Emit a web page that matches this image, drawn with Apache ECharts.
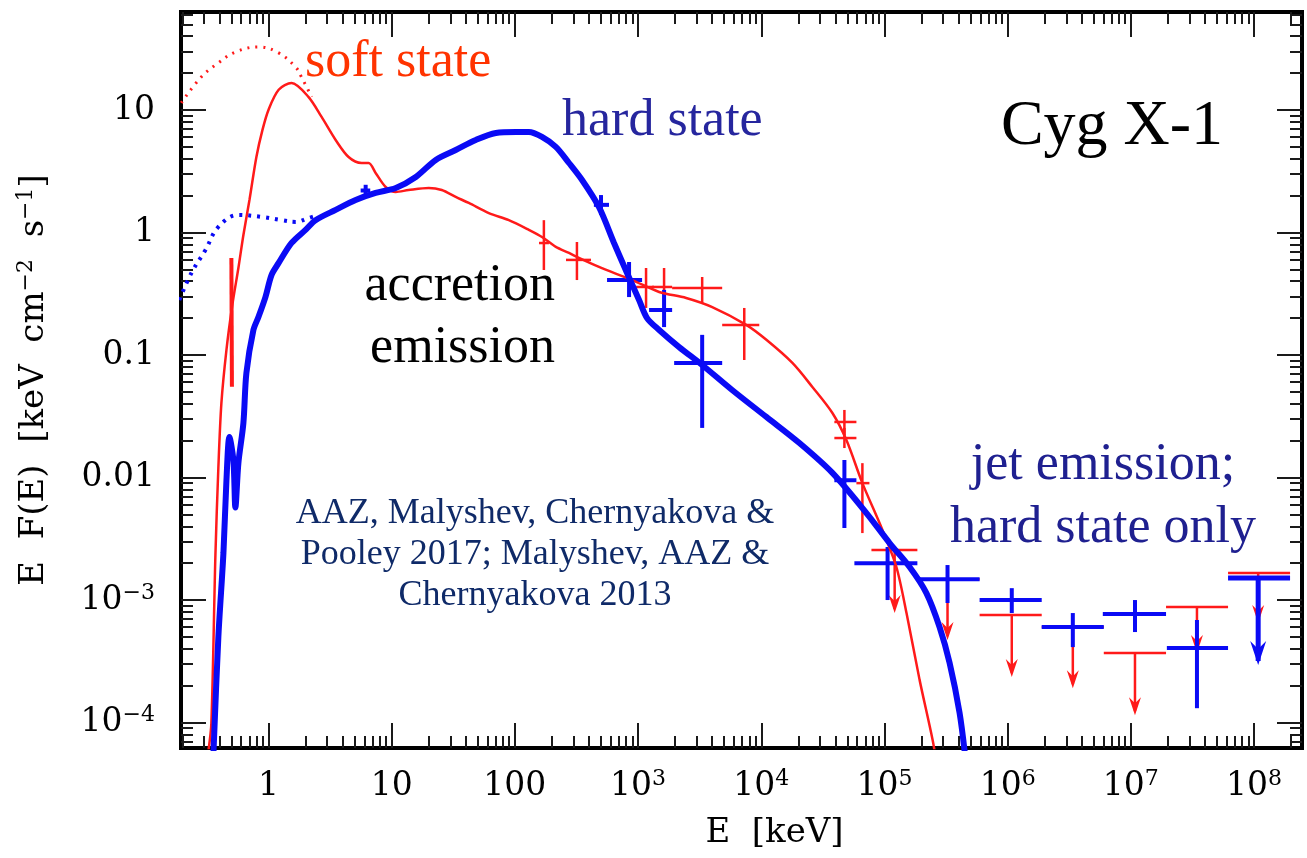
<!DOCTYPE html>
<html>
<head>
<meta charset="utf-8">
<script src="https://cdn.jsdelivr.net/npm/echarts@6/dist/echarts.min.js"></script>
<style>
  html, body { margin: 0; padding: 0; background: #fff; }
  #chart { width: 1307px; height: 858px; }
</style>
</head>
<body>
<div id="chart"></div>
<script>
// axis ticks and labels
const xTickValues = [1, 10, 100, 1e3, 1e4, 1e5, 1e6, 1e7, 1e8];
const xTickLabels = ['1', '10', '100', '10^3', '10^4', '10^5', '10^6', '10^7', '10^8'];
const yTickValues = [1e-4, 1e-3, 0.01, 0.1, 1, 10];
const yTickLabels = ['10^-4', '10^-3', '0.01', '0.1', '1', '10'];

// soft state: model curve (thin red) and disk component (dotted)
const softModelE = [0.325, 0.344, 0.371, 0.392, 0.415, 0.456, 0.509, 0.570, 0.626, 0.701, 0.798, 0.894, 1.0, 1.21, 1.54, 2.11, 2.70, 3.51, 4.47, 5.70, 6.50, 7.41, 8.94, 10.8, 13.7, 20.0, 25.5, 33.1, 42.3, 61.5, 89.4, 130, 166, 215, 275, 331, 482, 894, 1483, 2456, 4000, 7550, 11000, 17900, 26000, 37800, 49100, 66200, 96300, 125000, 151000, 193000, 246000, 270000];
const softModelF = [5.8e-5, 9.9e-5, 2.33e-3, 0.012, 0.0406, 0.110, 0.256, 0.513, 0.954, 1.84, 4.13, 6.87, 10, 14.6, 16.6, 12.8, 8.77, 5.69, 4.13, 3.69, 3.69, 3.06, 2.35, 2.14, 2.22, 2.31, 2.22, 1.95, 1.74, 1.44, 1.26, 1.05, 0.919, 0.762, 0.681, 0.620, 0.523, 0.409, 0.327, 0.292, 0.246, 0.176, 0.133, 0.0861, 0.0548, 0.0336, 0.0202, 9.0e-3, 3.73e-3, 1.86e-3, 7.83e-4, 2.22e-4, 7.2e-5, 4.1e-5];
const softDiskE = [0.196, 0.285, 0.392, 0.539, 0.83, 1.21, 1.66, 1.85, 2.24];
const softDiskF = [11.4, 18.6, 24.2, 29.7, 32.7, 29.2, 22.4, 18.6, 12.8];
const softSpikeE = [0.500, 0.505];
const softSpikeF = [0.62, 0.055];

// hard state: model curve (thick blue) and soft component (dotted)
const hardModelE = [0.357, 0.392, 0.431, 0.456, 0.482, 0.519, 0.539, 0.570, 0.626, 0.662, 0.755, 0.829, 0.945, 1.06, 1.21, 1.54, 2.0, 2.41, 3.51, 5.10, 7.41, 10.8, 15.7, 22.8, 33.1, 48.2, 70.1, 102, 130, 166, 215, 275, 351, 482, 638, 814, 1019, 1183, 1483, 2154, 3314, 5800, 11000, 20400, 37800, 71400, 110000, 160000, 219000, 280000, 338000, 407000, 456000];
const hardModelF = [5.4e-5, 4.99e-4, 2.42e-3, 9.5e-3, 0.0214, 0.0139, 5.7e-3, 0.0131, 0.0279, 0.0713, 0.160, 0.204, 0.297, 0.450, 0.564, 0.821, 1.05, 1.26, 1.53, 1.84, 2.10, 2.31, 2.84, 3.91, 4.71, 5.69, 6.49, 6.61, 6.61, 6.02, 4.99, 3.69, 2.68, 1.61, 0.821, 0.467, 0.281, 0.200, 0.160, 0.116, 0.0829, 0.0518, 0.0312, 0.0191, 0.0109, 5.13e-3, 2.92e-3, 1.86e-3, 1.14e-3, 6.02e-4, 3.06e-4, 1.2e-4, 4.94e-5];
const hardDiskE = [0.189, 0.237, 0.308, 0.392, 0.570, 0.877, 1.28, 1.66, 2.11, 2.55];
const hardDiskF = [0.281, 0.467, 0.72, 1.11, 1.39, 1.34, 1.26, 1.22, 1.31, 1.39];

// data points: [E, F, Emin, Emax, Fmin, Fmax]
const softPoints = [
  [172, 0.82, 157, 189, 0.494, 1.26],
  [319, 0.597, 260, 415, 0.409, 0.836],
  [1161, 0.359, 963, 1349, 0.242, 0.513],
  [1626, 0.359, 1300, 1890, 0.233, 0.513],
  [3314, 0.352, 1890, 4817, 0.266, 0.433],
  [7278, 0.176, 4817, 9636, 0.091, 0.242],
  [47300, 0.0284, 39200, 59200, 0.0222, 0.0356],
  [47300, 0.0210, 39200, 59200, 0.0174, 0.0254],
  [66200, 9.0e-3, 59200, 75500, 3.52e-3, 0.0131]
];
const hardPoints = [
  [6.15, 2.2, 5.6, 6.7, 1.95, 2.45],
  [500, 1.68, 438, 581, 1.39, 2.02],
  [845, 0.409, 560, 1078, 0.297, 0.574],
  [1626, 0.233, 1228, 1890, 0.169, 0.340],
  [3314, 0.0861, 1963, 4817, 0.0254, 0.146],
  [47300, 9.5e-3, 39200, 59200, 3.87e-3, 0.0139],
  [1.06e5, 2.0e-3, 5.7e4, 1.85e5, 1.0e-3, 2.71e-3],
  [3.25e5, 1.48e-3, 1.85e5, 5.92e5, 9.46e-4, 1.93e-3],
  [1.08e6, 1.0e-3, 5.92e5, 1.89e6, 7.83e-4, 1.25e-3],
  [3.38e6, 6.02e-4, 1.89e6, 6.03e6, 4.13e-4, 7.83e-4],
  [1.08e7, 7.69e-4, 5.92e6, 1.93e7, 5.48e-4, 1.0e-3],
  [3.44e7, 4.06e-4, 1.96e7, 6.15e7, 1.31e-4, 6.87e-4]
];
// upper limits: [E, F, Emin, Emax, arrow tip]
const softLimits = [
  [1.21e5, 2.56e-3, 7.84e4, 1.85e5, 7.83e-4],
  [3.25e5, 1.48e-3, 1.85e5, 5.92e5, 4.71e-4],
  [1.08e6, 7.55e-4, 5.92e5, 1.89e6, 2.35e-4],
  [3.38e6, 6.02e-4, 1.89e6, 6.03e6, 1.91e-4],
  [1.08e7, 3.69e-4, 6.03e6, 1.93e7, 1.15e-4],
  [3.44e7, 8.77e-4, 1.93e7, 6.15e7, 3.69e-4],
  [1.08e8, 1.66e-3, 6.15e7, 1.96e8, 6.49e-4]
];
const hardLimits = [
  [1.08e8, 1.51e-3, 6.15e7, 1.96e8, 2.95e-4]
];

const X_MIN = 0.195, X_MAX = 2.45e8, Y_MIN = 6.2e-5, Y_MAX = 63;
const RED = '#ff1a1a', BLUE = '#0a0af5';
const TICK_FONT = 'DejaVu Serif';

function minorTicks(lo, hi) {
  const out = [];
  for (let p = -5; p <= 9; p++) {
    for (let k = 2; k <= 9; k++) {
      const v = k * Math.pow(10, p);
      if (v > lo && v < hi) out.push(v);
    }
  }
  return out;
}

function tickText(values, labels) {
  return function (v) {
    const p = Math.round(Math.log10(v));
    const i = values.findIndex(t => Math.round(Math.log10(t)) === p);
    if (i < 0) return '';
    const s = labels[i];
    if (s.indexOf('^') < 0) return '{b|' + s + '}';
    const parts = s.split('^');
    return '{b|' + parts[0] + '}{s|' + parts[1].replace('-', '\u2212') + '}';
  };
}

const labelRich = {
  b: { fontFamily: TICK_FONT, fontSize: 33, color: '#000', lineHeight: 36 },
  s: { fontFamily: TICK_FONT, fontSize: 22, color: '#000', verticalAlign: 'top', lineHeight: 22 }
};

function makeAxis(kind, pos, ticks, len, label) {
  const ax = {
    type: 'log', logBase: 10, position: pos,
    min: kind === 'x' ? X_MIN : Y_MIN,
    max: kind === 'x' ? X_MAX : Y_MAX,
    axisLine: { show: false },
    splitLine: { show: false },
    axisTick: { show: true, inside: true, length: len, customValues: ticks, lineStyle: { color: '#1a1a1a', width: 2 } },
    axisLabel: { show: false }
  };
  if (label) {
    ax.axisLabel = {
      show: true,
      customValues: kind === 'x' ? xTickValues : yTickValues,
      margin: kind === 'x' ? 20 : 26,
      formatter: kind === 'x' ? tickText(xTickValues, xTickLabels) : tickText(yTickValues, yTickLabels),
      rich: labelRich
    };
  }
  return ax;
}

const xMinor = minorTicks(X_MIN, X_MAX);
const yMinor = minorTicks(Y_MIN, Y_MAX);

const xAxes = [
  makeAxis('x', 'bottom', xTickValues, 25, true),
  makeAxis('x', 'bottom', xMinor, 12, false),
  makeAxis('x', 'top', xTickValues, 25, false),
  makeAxis('x', 'top', xMinor, 12, false)
];
xAxes[0].name = 'E  [keV]';
xAxes[0].nameLocation = 'middle';
xAxes[0].nameGap = 68;
xAxes[0].nameTextStyle = { fontFamily: TICK_FONT, fontSize: 34, color: '#000', padding: [0, 0, 0, 66] };

const yAxes = [
  makeAxis('y', 'left', yTickValues, 25, true),
  makeAxis('y', 'left', yMinor, 12, false),
  makeAxis('y', 'right', yTickValues, 25, false),
  makeAxis('y', 'right', yMinor, 12, false)
];
yAxes[0].name = '{t|E  F(E)  [keV  cm}{s|\u22122}{t|  s}{s|\u22121}{t|]}';
yAxes[0].nameLocation = 'middle';
yAxes[0].nameRotate = 90;
yAxes[0].nameGap = 128;
yAxes[0].nameTextStyle = {
  rich: {
    t: { fontFamily: TICK_FONT, fontSize: 34, color: '#000', lineHeight: 38 },
    s: { fontFamily: TICK_FONT, fontSize: 22, color: '#000', verticalAlign: 'top', lineHeight: 22 }
  }
};

function pairs(es, fs) {
  return es.map((e, i) => [e, fs[i]]);
}

function crossRender(color, width) {
  return function (params, api) {
    const a = api.coord([api.value(2), api.value(1)]);
    const b = api.coord([api.value(3), api.value(1)]);
    const c = api.coord([api.value(0), api.value(4)]);
    const d = api.coord([api.value(0), api.value(5)]);
    const st = { stroke: color, lineWidth: width };
    return {
      type: 'group',
      children: [
        { type: 'line', shape: { x1: a[0], y1: a[1], x2: b[0], y2: b[1] }, style: st },
        { type: 'line', shape: { x1: c[0], y1: c[1], x2: d[0], y2: d[1] }, style: st }
      ]
    };
  };
}

function limitRender(color, width, head) {
  return function (params, api) {
    const a = api.coord([api.value(2), api.value(1)]);
    const b = api.coord([api.value(3), api.value(1)]);
    const c = api.coord([api.value(0), api.value(1)]);
    const tip = api.coord([api.value(0), api.value(4)]);
    const st = { stroke: color, lineWidth: width };
    return {
      type: 'group',
      children: [
        { type: 'line', shape: { x1: a[0], y1: a[1], x2: b[0], y2: b[1] }, style: st },
        { type: 'line', shape: { x1: c[0], y1: c[1], x2: tip[0], y2: tip[1] - 4 }, style: st },
        { type: 'polygon', shape: { points: [[tip[0] - head, tip[1] - head * 3], [tip[0], tip[1] - head * 2], [tip[0] + head, tip[1] - head * 3], [tip[0], tip[1]]] }, style: { fill: color } }
      ]
    };
  };
}

const chart = echarts.init(document.getElementById('chart'));
chart.setOption({
  animation: false,
  backgroundColor: '#fff',
  grid: { left: 181, right: 5, top: 12, bottom: 110, show: true, borderColor: '#000', borderWidth: 4, backgroundColor: 'transparent' },
  xAxis: xAxes,
  yAxis: yAxes,
  series: [
    { type: 'line', name: 'soft disk', data: pairs(softDiskE, softDiskF), showSymbol: false, smooth: 0.4, lineStyle: { color: RED, width: 3, type: [2, 6] } },
    { type: 'line', name: 'hard disk', data: pairs(hardDiskE, hardDiskF), showSymbol: false, smooth: 0.4, lineStyle: { color: BLUE, width: 4, type: [3, 6] } },
    { type: 'line', name: 'soft state', data: pairs(softModelE, softModelF), showSymbol: false, smooth: 0.3, lineStyle: { color: RED, width: 2.5 } },
    { type: 'line', name: 'soft spike', data: pairs(softSpikeE, softSpikeF), showSymbol: false, lineStyle: { color: RED, width: 4 } },
    { type: 'custom', name: 'soft points', data: softPoints, renderItem: crossRender(RED, 2.5), clip: true },
    { type: 'custom', name: 'soft limits', data: softLimits, renderItem: limitRender(RED, 2.5, 6), clip: true },
    { type: 'line', name: 'hard state', data: pairs(hardModelE, hardModelF), showSymbol: false, smooth: 0.3, lineStyle: { color: BLUE, width: 6 } },
    { type: 'custom', name: 'hard points', data: hardPoints, renderItem: crossRender(BLUE, 4), clip: true },
    { type: 'custom', name: 'hard limits', data: hardLimits, renderItem: limitRender(BLUE, 5, 8), clip: true }
  ],
  graphic: [
    { type: 'text', style: { text: 'soft state', x: 305, y: 62, font: '52px "Liberation Serif"', fill: '#ff3300', textAlign: 'left', textVerticalAlign: 'middle' } },
    { type: 'text', style: { text: 'hard state', x: 562, y: 121, font: '52px "Liberation Serif"', fill: '#26269e', textAlign: 'left', textVerticalAlign: 'middle' } },
    { type: 'text', style: { text: 'Cyg X-1', x: 1112, y: 127, font: '64px "Liberation Serif"', fill: '#000', textAlign: 'center', textVerticalAlign: 'middle' } },
    { type: 'text', style: { text: 'accretion\nemission', x: 555, y: 317, font: '52px "Liberation Serif"', lineHeight: 62, fill: '#000', textAlign: 'right', textVerticalAlign: 'middle' } },
    { type: 'text', style: { text: 'jet emission;\nhard state only', x: 1103, y: 497, font: '52px "Liberation Serif"', lineHeight: 63, fill: '#1f2090', textAlign: 'center', textVerticalAlign: 'middle' } },
    { type: 'text', style: { text: 'AAZ, Malyshev, Chernyakova &\nPooley 2017; Malyshev, AAZ &\nChernyakova 2013', x: 535, y: 555, font: '36px "Liberation Serif"', lineHeight: 41, fill: '#0f2a68', textAlign: 'center', textVerticalAlign: 'middle' } }
  ]
});
</script>
</body>
</html>
